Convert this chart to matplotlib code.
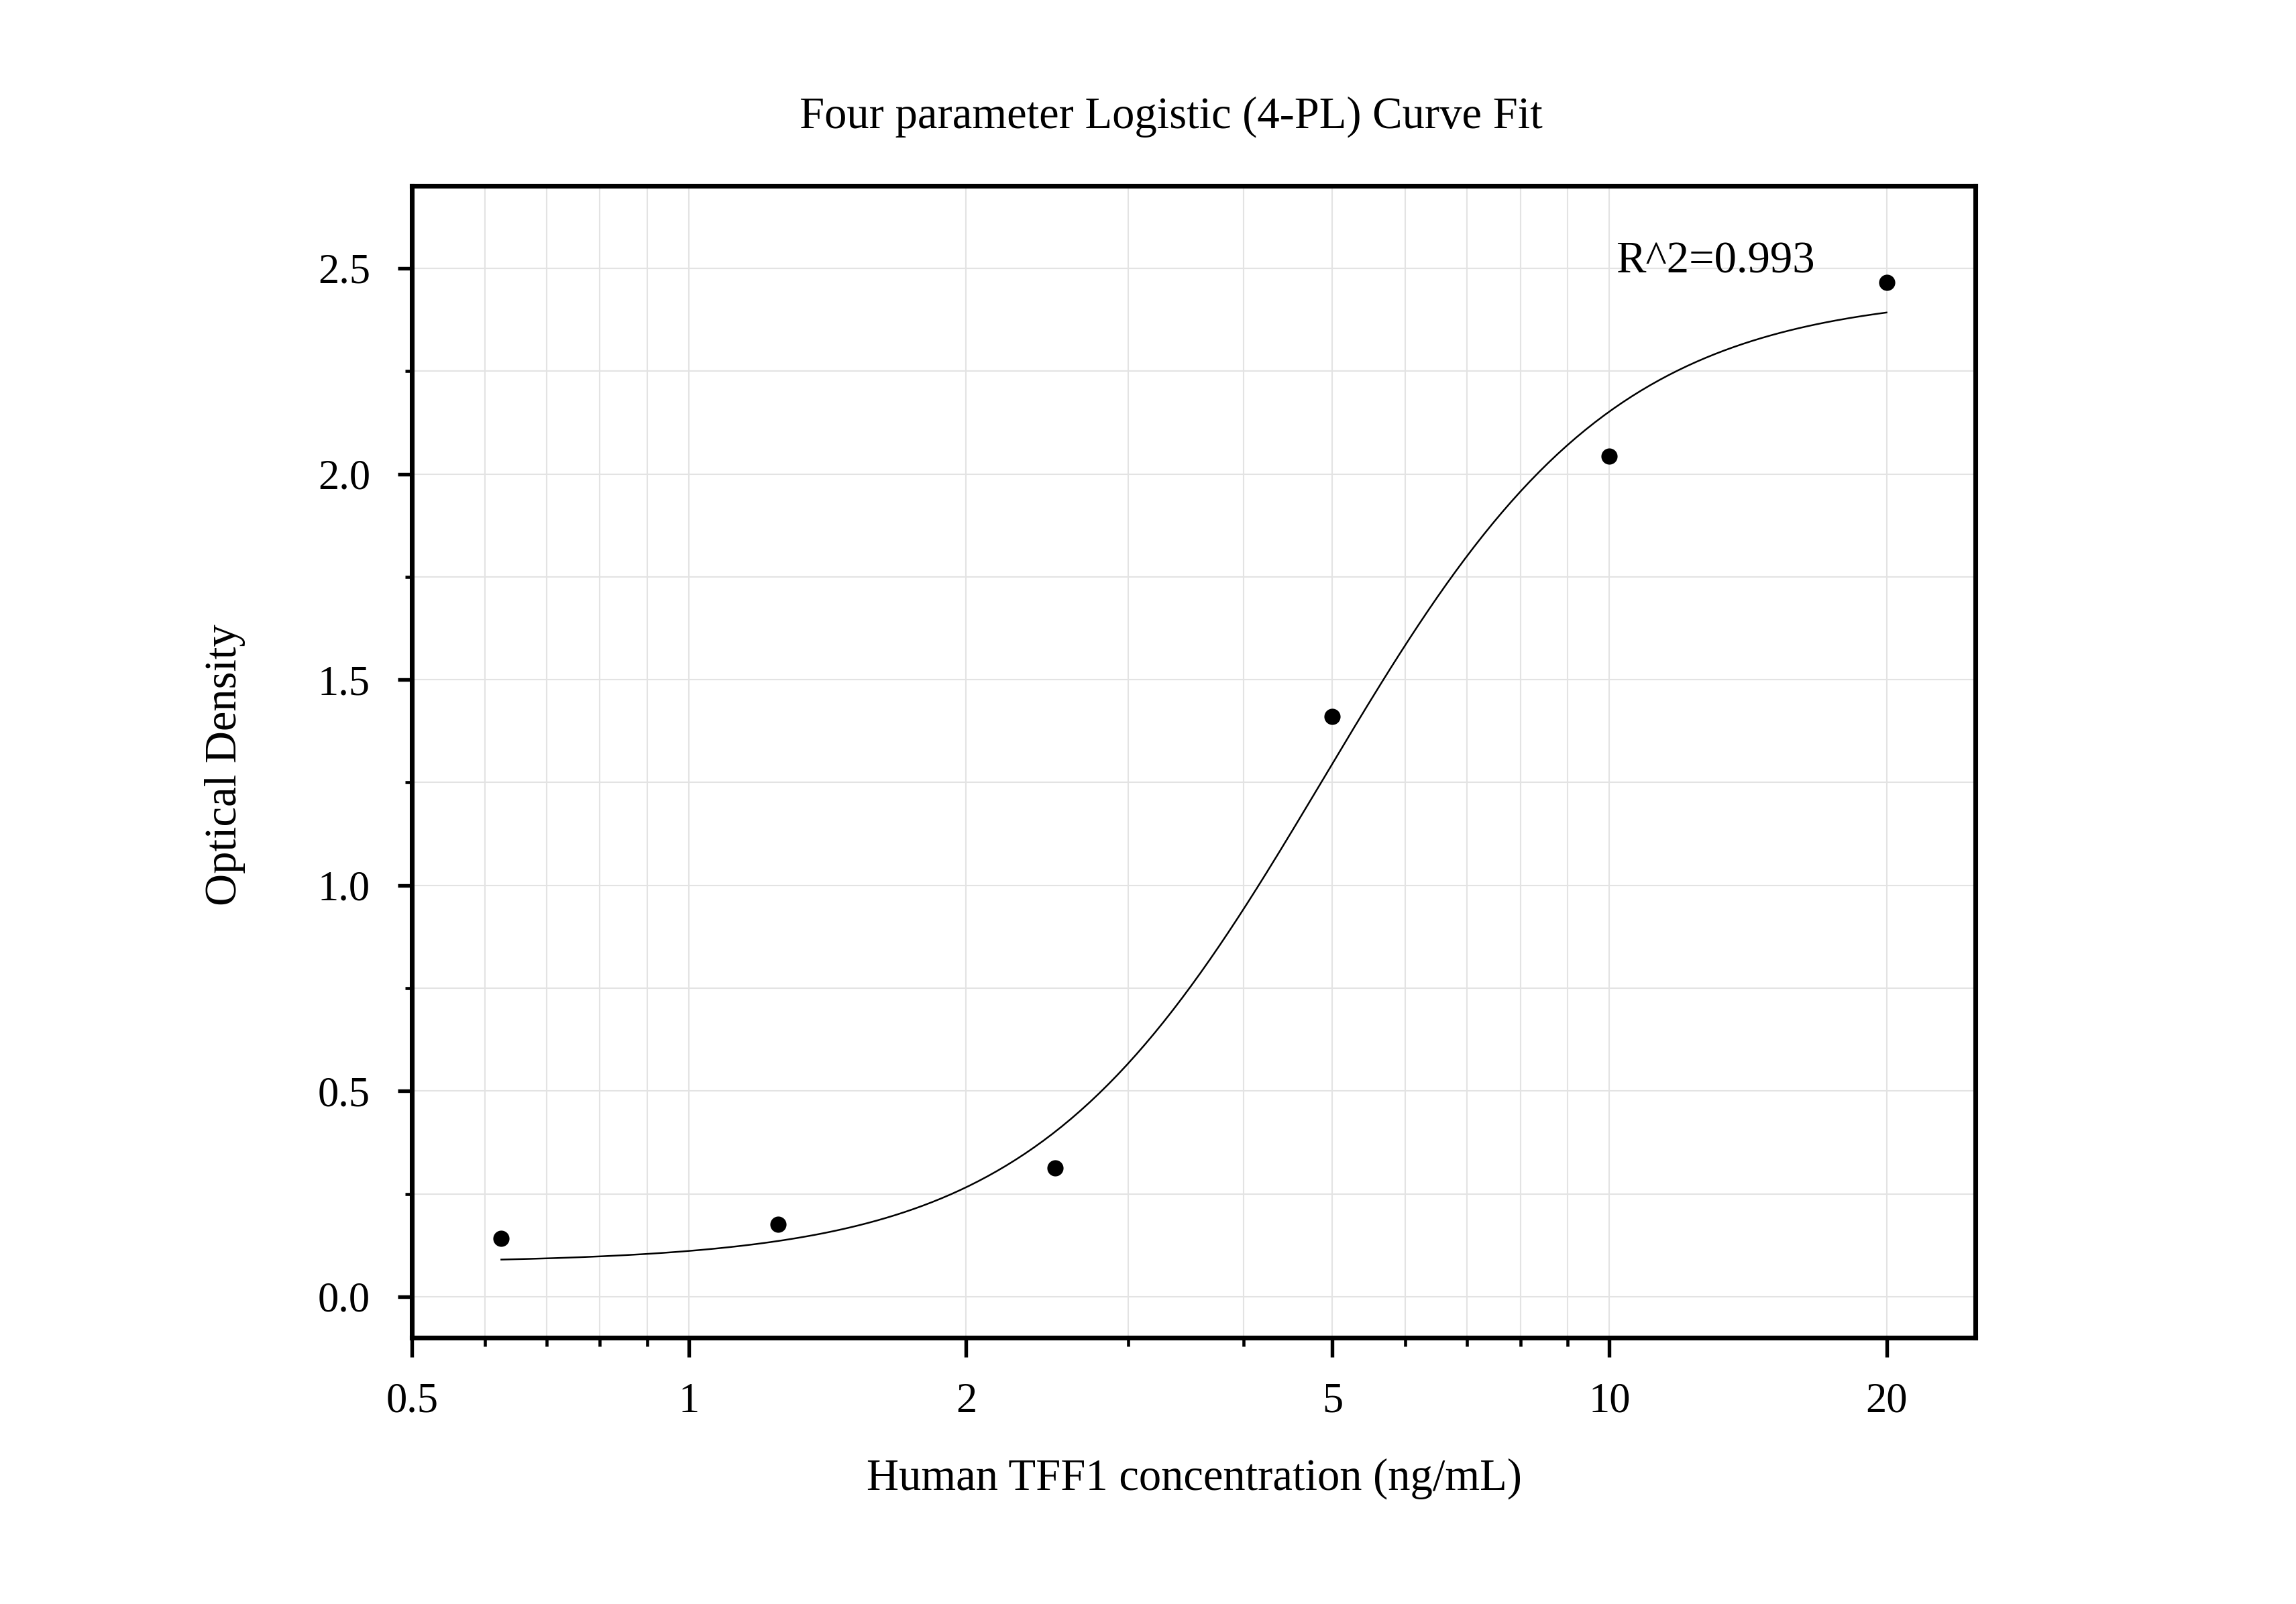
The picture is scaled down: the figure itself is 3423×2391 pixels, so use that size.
import numpy as np
import matplotlib
matplotlib.use("Agg")
import matplotlib.pyplot as plt
from matplotlib.ticker import FixedLocator, NullFormatter

plt.rcParams['font.family'] = ['Liberation Serif', 'DejaVu Serif']

# standards (ng/mL) and measured OD
conc = [0.625, 1.25, 2.5, 5, 10, 20]
od = [0.142, 0.175, 0.313, 1.410, 2.044, 2.466]

# 4-PL parameters
bottom = 0.082
top = 2.44
ec50 = 4.894
hill = 2.76
r2_text = "R^2=0.993"

xticks = [0.5, 1, 2, 5, 10, 20]
xticklabels = ["0.5", "1", "2", "5", "10", "20"]
xminor = [0.6, 0.7, 0.8, 0.9, 3, 4, 6, 7, 8, 9]
yticks = [0.0, 0.5, 1.0, 1.5, 2.0, 2.5]
yminor = [0.25, 0.75, 1.25, 1.75, 2.25]

fig = plt.figure(figsize=(3423 / 300, 2391 / 300), dpi=300)
ax = fig.add_axes([0.1795, 0.166, 0.681, 0.718])

xs = np.logspace(np.log10(conc[0]), np.log10(conc[-1]), 300)
ys = top + (bottom - top) / (1 + (xs / ec50) ** hill)
ax.plot(xs, ys, color="black", lw=0.6, zorder=3)
ax.plot(conc, od, "o", color="black", ms=4.8, zorder=4)

ax.set_xscale("log")
ax.set_xlim(0.5, 25)
ax.set_ylim(-0.1, 2.7)

ax.xaxis.set_major_locator(FixedLocator(xticks))
ax.set_xticklabels(xticklabels)
ax.xaxis.set_minor_locator(FixedLocator(xminor))
ax.xaxis.set_minor_formatter(NullFormatter())
ax.yaxis.set_major_locator(FixedLocator(yticks))
ax.set_yticklabels([f"{v:.1f}" for v in yticks])
ax.yaxis.set_minor_locator(FixedLocator(yminor))

ax.grid(True, which="both", color="#e3e3e3", lw=0.5, zorder=0)
ax.set_axisbelow(True)

for s in ax.spines.values():
    s.set_linewidth(1.7)
ax.tick_params(axis="x", which="major", length=7, width=1.3, direction="out", labelsize=15, pad=9)
ax.tick_params(axis="x", which="minor", length=3, width=1.1, direction="out")
ax.tick_params(axis="y", which="major", length=5, width=1.3, direction="out", labelsize=15, pad=10)
ax.tick_params(axis="y", which="minor", length=2.5, width=1.1, direction="out")

ax.text(0.77, 0.925, r2_text, transform=ax.transAxes, fontsize=16)

fig.text(0.510, 0.927, "Four parameter Logistic (4-PL) Curve Fit", ha="center", va="center", fontsize=16)
fig.text(0.520, 0.078, "Human TFF1 concentration (ng/mL)", ha="center", va="center", fontsize=16)
fig.text(0.098, 0.523, "Optical Density", ha="center", va="center", rotation=90, fontsize=16)

fig.savefig("out.png", dpi=300)
